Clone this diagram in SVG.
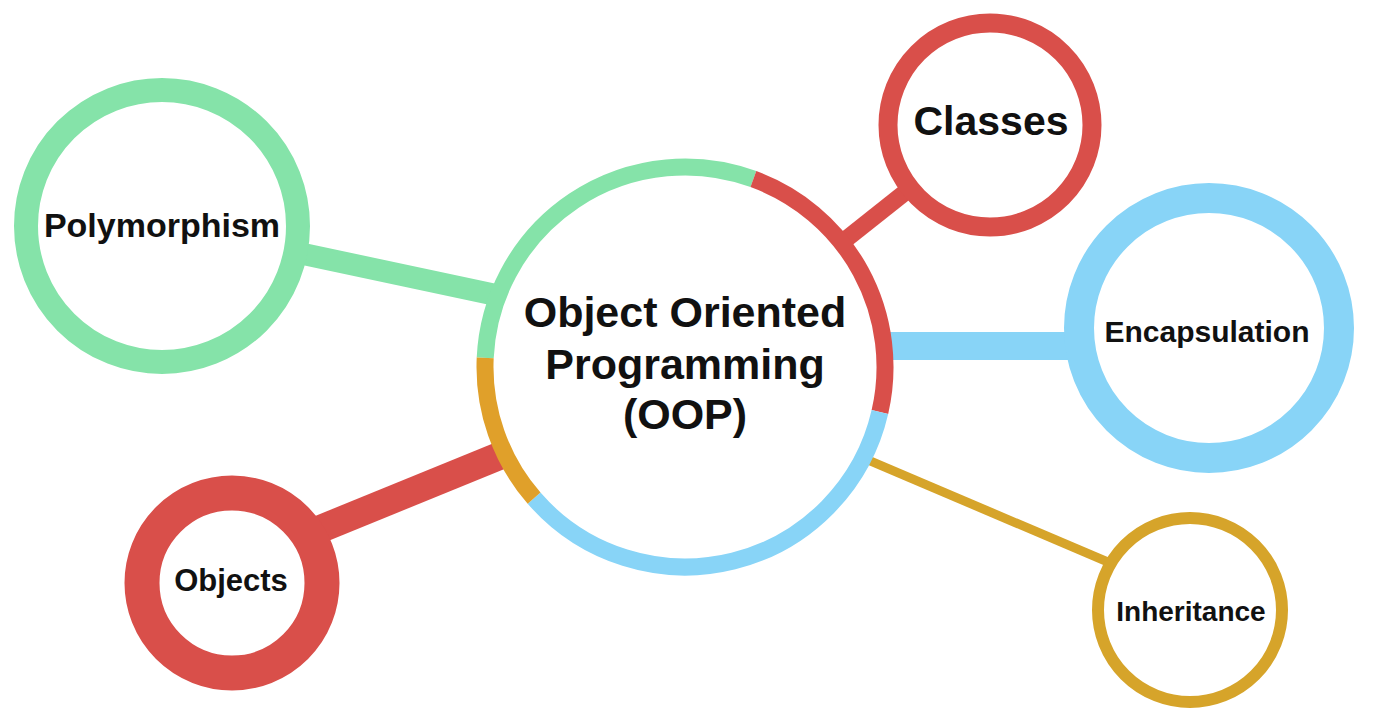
<svg xmlns="http://www.w3.org/2000/svg" width="1381" height="710" viewBox="0 0 1381 710">
<style>
.lbl{font-family:"Liberation Sans",Arial,sans-serif;font-weight:bold;fill:#111;text-anchor:middle}
.ring{fill:#fff}
.arc{fill:none;stroke-width:17;stroke-linecap:butt}
.conn{stroke-linecap:butt;fill:none}
.green{stroke:#85E3A9}
.red{stroke:#D94F4A}
.blue{stroke:#88D4F7}
.orange{stroke:#E0A02A}
.gold{stroke:#D6A42A}
</style>
<rect width="1381" height="710" fill="#fff"/>
<g id="connectors">
<line class="conn green" x1="162" y1="224" x2="600" y2="317" stroke-width="22"/>
<line class="conn red" x1="990" y1="125" x2="685" y2="367" stroke-width="17"/>
<line class="conn blue" x1="800" y1="346" x2="1209" y2="346" stroke-width="28"/>
<line class="conn red" x1="232" y1="565" x2="600" y2="415" stroke-width="28"/>
<line class="conn gold" x1="760" y1="414" x2="1190" y2="597" stroke-width="9"/>
</g>
<g id="oop">
<circle class="ring" cx="685" cy="367" r="200"/>
<path class="arc green" d="M485.2,357.9 A200,200 0 0 1 753.4,179.1"/>
<path class="arc red" d="M753.4,179.1 A200,200 0 0 1 879.9,412"/>
<path class="arc blue" d="M879.9,412 A200,200 0 0 1 534.1,498.2"/>
<path class="arc orange" d="M534.1,498.2 A200,200 0 0 1 485.2,357.9"/>
<text class="lbl" font-size="43" x="685" y="327">Object Oriented</text>
<text class="lbl" font-size="43" x="685" y="379">Programming</text>
<text class="lbl" font-size="43" x="685" y="429">(OOP)</text>
</g>
<g id="polymorphism">
<circle class="ring green" cx="162" cy="226" r="136" stroke-width="24"/>
<text class="lbl" font-size="34" x="162" y="237">Polymorphism</text>
</g>
<g id="classes">
<circle class="ring red" cx="990" cy="125" r="102" stroke-width="19"/>
<text class="lbl" font-size="41" x="991" y="135">Classes</text>
</g>
<g id="encapsulation">
<circle class="ring blue" cx="1209" cy="328" r="130" stroke-width="30"/>
<text class="lbl" font-size="30" x="1207" y="342">Encapsulation</text>
</g>
<g id="objects">
<circle class="ring red" cx="232" cy="583" r="90" stroke-width="35"/>
<text class="lbl" font-size="31" x="231" y="591">Objects</text>
</g>
<g id="inheritance">
<circle class="ring gold" cx="1190" cy="610" r="92" stroke-width="12"/>
<text class="lbl" font-size="28" x="1191" y="621">Inheritance</text>
</g>
</svg>
